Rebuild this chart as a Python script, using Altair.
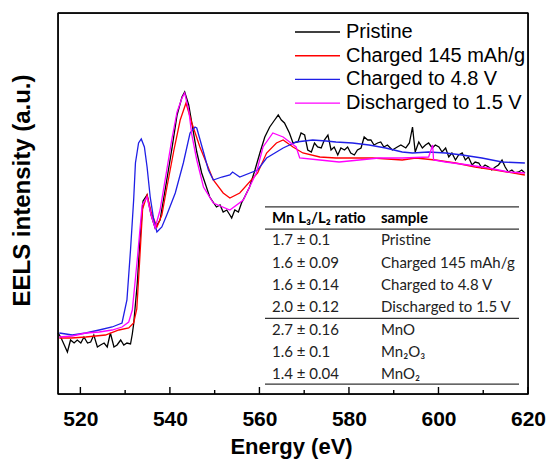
import altair as alt
import pandas as pd

# ---------------- data ----------------
series_names = ["Pristine", "Charged 145 mAh/g", "Charged to 4.8 V", "Discharged to 1.5 V"]
series_colors = ["#000000", "#ff0000", "#1f1fe6", "#ff00ff"]

pristine_ev = [515.0, 515.6, 516.4, 517.1, 517.8, 518.6, 519.3, 520.1, 520.8, 521.6,
               522.3, 523.0, 523.8, 524.5, 525.3, 526.0, 526.7, 527.5, 528.2, 529.0,
               529.7, 530.4, 531.2, 531.6, 531.9, 532.7, 533.4, 534.0, 534.9, 535.8,
               536.7, 537.8, 539.3, 540.4, 541.6, 542.7, 543.3, 544.2, 544.9, 546.0,
               547.1, 548.9, 550.4, 551.2, 551.9, 552.7, 553.4, 553.8, 554.5, 555.3,
               556.0, 556.7, 557.8, 559.0, 560.1, 561.2, 562.3, 563.4, 564.2, 564.9,
               565.6, 566.7, 567.5, 568.6, 569.3, 570.1, 570.8, 571.6, 572.3, 573.0,
               573.8, 574.5, 575.3, 576.0, 576.7, 577.5, 578.2, 579.0, 579.7, 580.4,
               581.2, 581.9, 582.7, 583.4, 584.2, 584.9, 585.6, 586.4, 587.1, 587.8,
               588.6, 589.7, 590.8, 591.6, 592.7, 593.5, 594.2, 594.8, 595.6, 596.4,
               597.1, 597.8, 598.6, 599.3, 600.1, 600.8, 601.6, 602.3, 603.0, 603.8,
               604.5, 605.3, 606.0, 606.7, 607.5, 608.2, 609.0, 609.7, 610.4, 611.2,
               611.9, 612.7, 613.4, 614.2, 614.9, 615.6, 616.4, 617.1, 617.9, 618.6,
               619.3]
pristine_int = [0.61, 0.57, 0.49, 0.42, 0.54, 0.51, 0.54, 0.51, 0.57, 0.51,
                0.52, 0.59, 0.47, 0.49, 0.51, 0.47, 0.61, 0.47, 0.49, 0.54,
                0.49, 0.51, 0.50, 0.60, 0.70, 1.10, 1.60, 1.93, 1.99, 1.79,
                1.66, 1.74, 2.14, 2.44, 2.79, 2.97, 3.02, 2.89, 2.71, 2.42,
                2.21, 1.97, 1.87, 1.89, 1.82, 1.84, 1.79, 1.76, 1.84, 1.82,
                1.91, 1.97, 2.07, 2.24, 2.41, 2.57, 2.67, 2.74, 2.79, 2.74,
                2.71, 2.61, 2.51, 2.52, 2.61, 2.59, 2.44, 2.42, 2.51, 2.47,
                2.46, 2.54, 2.59, 2.44, 2.47, 2.39, 2.46, 2.44, 2.47, 2.41,
                2.39, 2.44, 2.46, 2.57, 2.54, 2.54, 2.49, 2.51, 2.52, 2.47,
                2.49, 2.44, 2.47, 2.49, 2.46, 2.51, 2.67, 2.42, 2.52, 2.46,
                2.49, 2.51, 2.46, 2.49, 2.47, 2.42, 2.46, 2.37, 2.41, 2.34,
                2.39, 2.41, 2.34, 2.37, 2.29, 2.32, 2.31, 2.26, 2.29, 2.27,
                2.24, 2.27, 2.29, 2.34, 2.27, 2.22, 2.24, 2.21, 2.22, 2.24,
                2.21]

charged145_ev = [515.3, 518.0, 521.2, 525.6, 528.6, 530.8, 531.9, 532.6, 533.2, 533.9,
                 534.9, 535.8, 537.1, 538.2, 539.3, 540.9, 542.3, 543.6, 544.9, 546.7,
                 549.7, 551.9, 553.4, 555.6, 559.6, 561.6, 563.8, 565.3, 567.5, 569.7,
                 573.5, 577.1, 580.8, 585.3, 591.9, 594.9, 599.3, 603.8, 608.2, 612.7,
                 619.3]
charged145_int = [0.56, 0.56, 0.57, 0.59, 0.64, 0.66, 0.71, 0.85, 1.30, 1.85,
                  1.99, 1.82, 1.67, 1.79, 2.06, 2.44, 2.74, 2.91, 2.71, 2.47,
                  2.14, 2.01, 1.96, 2.01, 2.21, 2.41, 2.51, 2.54, 2.47, 2.41,
                  2.37, 2.36, 2.36, 2.36, 2.34, 2.36, 2.34, 2.31, 2.27, 2.24,
                  2.19]

charged48_ev = [515.3, 518.2, 521.2, 524.2, 527.1, 529.3, 530.4, 531.2, 531.9, 532.3,
                533.0, 533.6, 534.3, 534.9, 535.6, 536.4, 537.1, 538.2, 539.3, 541.2,
                543.0, 544.5, 545.6, 546.0, 547.5, 548.6, 549.7, 551.6, 553.4, 554.0,
                555.6, 559.6, 561.6, 565.3, 568.2, 571.9, 574.9, 577.1, 580.8, 584.5,
                588.2, 591.9, 594.2, 597.8, 601.6, 605.3, 609.7, 614.2, 619.3]
charged48_int = [0.61, 0.59, 0.61, 0.64, 0.67, 0.71, 0.94, 1.44, 1.94, 2.31,
                 2.51, 2.55, 2.47, 2.27, 1.97, 1.74, 1.62, 1.67, 1.79, 2.01,
                 2.31, 2.61, 2.67, 2.66, 2.42, 2.24, 2.14, 2.17, 2.19, 2.22,
                 2.17, 2.24, 2.36, 2.46, 2.52, 2.54, 2.53, 2.52, 2.51, 2.49,
                 2.46, 2.42, 2.41, 2.42, 2.41, 2.39, 2.36, 2.32, 2.31]

discharged_ev = [515.3, 518.2, 521.2, 524.2, 527.1, 529.3, 530.8, 531.6, 532.7, 533.8,
                 534.9, 535.8, 536.7, 537.8, 539.3, 540.4, 541.6, 542.7, 543.3, 544.2,
                 544.9, 546.0, 547.5, 549.7, 553.4, 556.4, 559.3, 560.8, 563.0, 565.3,
                 568.2, 569.0, 573.5, 577.8, 582.3, 586.7, 591.9, 597.8, 598.7, 598.9,
                 601.6, 606.7, 611.2, 615.6, 619.3]
discharged_int = [0.57, 0.58, 0.61, 0.62, 0.64, 0.67, 0.72, 0.84, 1.34, 1.89,
                  1.97, 1.79, 1.66, 1.84, 2.24, 2.54, 2.82, 2.96, 3.01, 2.84,
                  2.59, 2.34, 2.07, 1.91, 1.84, 1.94, 2.21, 2.47, 2.61, 2.57,
                  2.47, 2.36, 2.34, 2.32, 2.34, 2.36, 2.36, 2.37, 2.49, 2.34,
                  2.32, 2.29, 2.26, 2.22, 2.21]

major_ticks = [520, 540, 560, 580, 600, 620]
minor_ticks = [530, 550, 570, 590, 610]

table_header = ["Mn L\u2083/L\u2082 ratio", "sample"]
table_ratio = ["1.7 \u00b1 0.1", "1.6 \u00b1 0.09", "1.6 \u00b1 0.14", "2.0 \u00b1 0.12",
               "2.7 \u00b1 0.16", "1.6 \u00b1 0.1", "1.4 \u00b1 0.04"]
table_sample = ["Pristine", "Charged 145 mAh/g", "Charged to 4.8 V", "Discharged to 1.5 V",
                "MnO", "Mn\u2082O\u2083", "MnO\u2082"]
table_rule_rows = [-0.5, 0.5, 4.5, 7.45]

# ---------------- build ----------------
frames = []
for name, ev, inten in zip(series_names,
                           [pristine_ev, charged145_ev, charged48_ev, discharged_ev],
                           [pristine_int, charged145_int, charged48_int, discharged_int]):
    frames.append(pd.DataFrame({"energy": ev, "intensity": inten, "sample": name}))
df = pd.concat(frames, ignore_index=True)

W, H = 470, 381
FONT = "Liberation Sans"
X0, X1 = 515, 620
Y0, Y1 = 0, 3.81
EDGE = 1.4

x_scale = alt.Scale(domain=[X0, X1], nice=False, zero=False)
y_scale = alt.Scale(domain=[Y0, Y1], nice=False, zero=False)
color_scale = alt.Scale(domain=series_names, range=series_colors)

lines = alt.Chart(df).mark_line(strokeWidth=1.3).encode(
    x=alt.X("energy:Q", scale=x_scale,
            axis=alt.Axis(title="Energy (eV)", values=major_ticks, format="d",
                          ticks=False, domain=False, grid=False,
                          labelFont=FONT, labelFontSize=21, labelFontWeight="bold",
                          labelColor="black", labelPadding=14, labelFlush=False,
                          titleFont=FONT, titleFontSize=22, titleFontWeight="bold",
                          titleColor="black", titleX=233, titleY=52,
                          titleBaseline="middle", titleAlign="center")),
    y=alt.Y("intensity:Q", scale=y_scale,
            axis=alt.Axis(title="EELS intensity (a.u.)", labels=False, ticks=False,
                          domain=False, grid=False,
                          titleFont=FONT, titleFontSize=24, titleFontWeight="bold",
                          titleColor="black", titleX=-36, titleY=177,
                          titleBaseline="middle", titleAlign="center", titleAngle=270)),
    color=alt.Color("sample:N", scale=color_scale, legend=None),
)

# inward axis ticks, drawn as short rules from the bottom edge
tick_df = pd.DataFrame({"energy": major_ticks + minor_ticks,
                        "len": [0.07] * len(major_ticks) + [0.04] * len(minor_ticks)})
tick_rules = alt.Chart(tick_df).transform_calculate(
    y0="0", y1="datum.len").mark_rule(color="#000000", strokeWidth=EDGE).encode(
    x=alt.X("energy:Q", scale=x_scale),
    y=alt.Y("y0:Q", scale=y_scale), y2="y1:Q")

# plot frame: horizontal edges at the y-domain ends, vertical edges at the x-domain ends
hedge_df = pd.DataFrame({"yv": [Y0, Y1]})
vedge_df = pd.DataFrame({"xv": [X0, X1]})
frame_h = alt.Chart(hedge_df).mark_rule(color="#000000", strokeWidth=EDGE).encode(
    x=alt.value(0), x2=alt.value(W), y=alt.Y("yv:Q", scale=y_scale))
frame_v = alt.Chart(vedge_df).mark_rule(color="#000000", strokeWidth=EDGE).encode(
    y=alt.value(0), y2=alt.value(H), x=alt.X("xv:Q", scale=x_scale))

# ---- legend rows (row index -> intensity position) ----
leg_df = pd.DataFrame({"lrow": list(range(len(series_names))), "sample": series_names})
leg_base = alt.Chart(leg_df).transform_calculate(ly="3.62 - 0.237 * datum.lrow")
leg_lines = leg_base.mark_rule(strokeWidth=1.4).encode(
    x=alt.value(237), x2=alt.value(282),
    y=alt.Y("ly:Q", scale=y_scale),
    color=alt.Color("sample:N", scale=color_scale, legend=None))
leg_text = leg_base.mark_text(align="left", baseline="middle", font=FONT,
                              fontSize=20, color="black").encode(
    x=alt.value(288), y=alt.Y("ly:Q", scale=y_scale), text="sample:N")

# ---- inset table (row index -> intensity position) ----
TFONT = "Lato"
body_df = pd.DataFrame({"row": list(range(1, len(table_ratio) + 1)),
                        "ratio": table_ratio, "sample": table_sample})
head_df = pd.DataFrame({"row": [0], "h1": [table_header[0]], "h2": [table_header[1]]})
rule_df = pd.DataFrame({"row": table_rule_rows})
row_expr = "1.76 - 0.223 * datum.row"

t_ratio = alt.Chart(body_df).transform_calculate(ty=row_expr).mark_text(
    align="left", baseline="middle", font=TFONT, fontSize=15, color="#222").encode(
    x=alt.value(214), y=alt.Y("ty:Q", scale=y_scale), text="ratio:N")
t_sample = alt.Chart(body_df).transform_calculate(ty=row_expr).mark_text(
    align="left", baseline="middle", font=TFONT, fontSize=15, color="#222").encode(
    x=alt.value(323), y=alt.Y("ty:Q", scale=y_scale), text="sample:N")
t_h1 = alt.Chart(head_df).transform_calculate(ty=row_expr).mark_text(
    align="left", baseline="middle", font=TFONT, fontSize=15, fontWeight="bold",
    color="black").encode(
    x=alt.value(214), y=alt.Y("ty:Q", scale=y_scale), text="h1:N")
t_h2 = alt.Chart(head_df).transform_calculate(ty=row_expr).mark_text(
    align="left", baseline="middle", font=TFONT, fontSize=15, fontWeight="bold",
    color="black").encode(
    x=alt.value(323), y=alt.Y("ty:Q", scale=y_scale), text="h2:N")
t_rules = alt.Chart(rule_df).transform_calculate(ty=row_expr).mark_rule(
    color="#333", strokeWidth=1.2).encode(
    x=alt.value(207), x2=alt.value(461), y=alt.Y("ty:Q", scale=y_scale))

chart = alt.layer(
    lines, tick_rules, frame_h, frame_v,
    leg_lines, leg_text,
    t_rules, t_h1, t_h2, t_ratio, t_sample,
).properties(
    width=W, height=H, autosize="none",
    padding={"left": 50, "top": 5, "right": 18, "bottom": 66},
).configure(font=FONT).configure_view(stroke="#000000", strokeWidth=EDGE)

chart.save("out.html", embed_options={"renderer": "svg", "actions": False})
